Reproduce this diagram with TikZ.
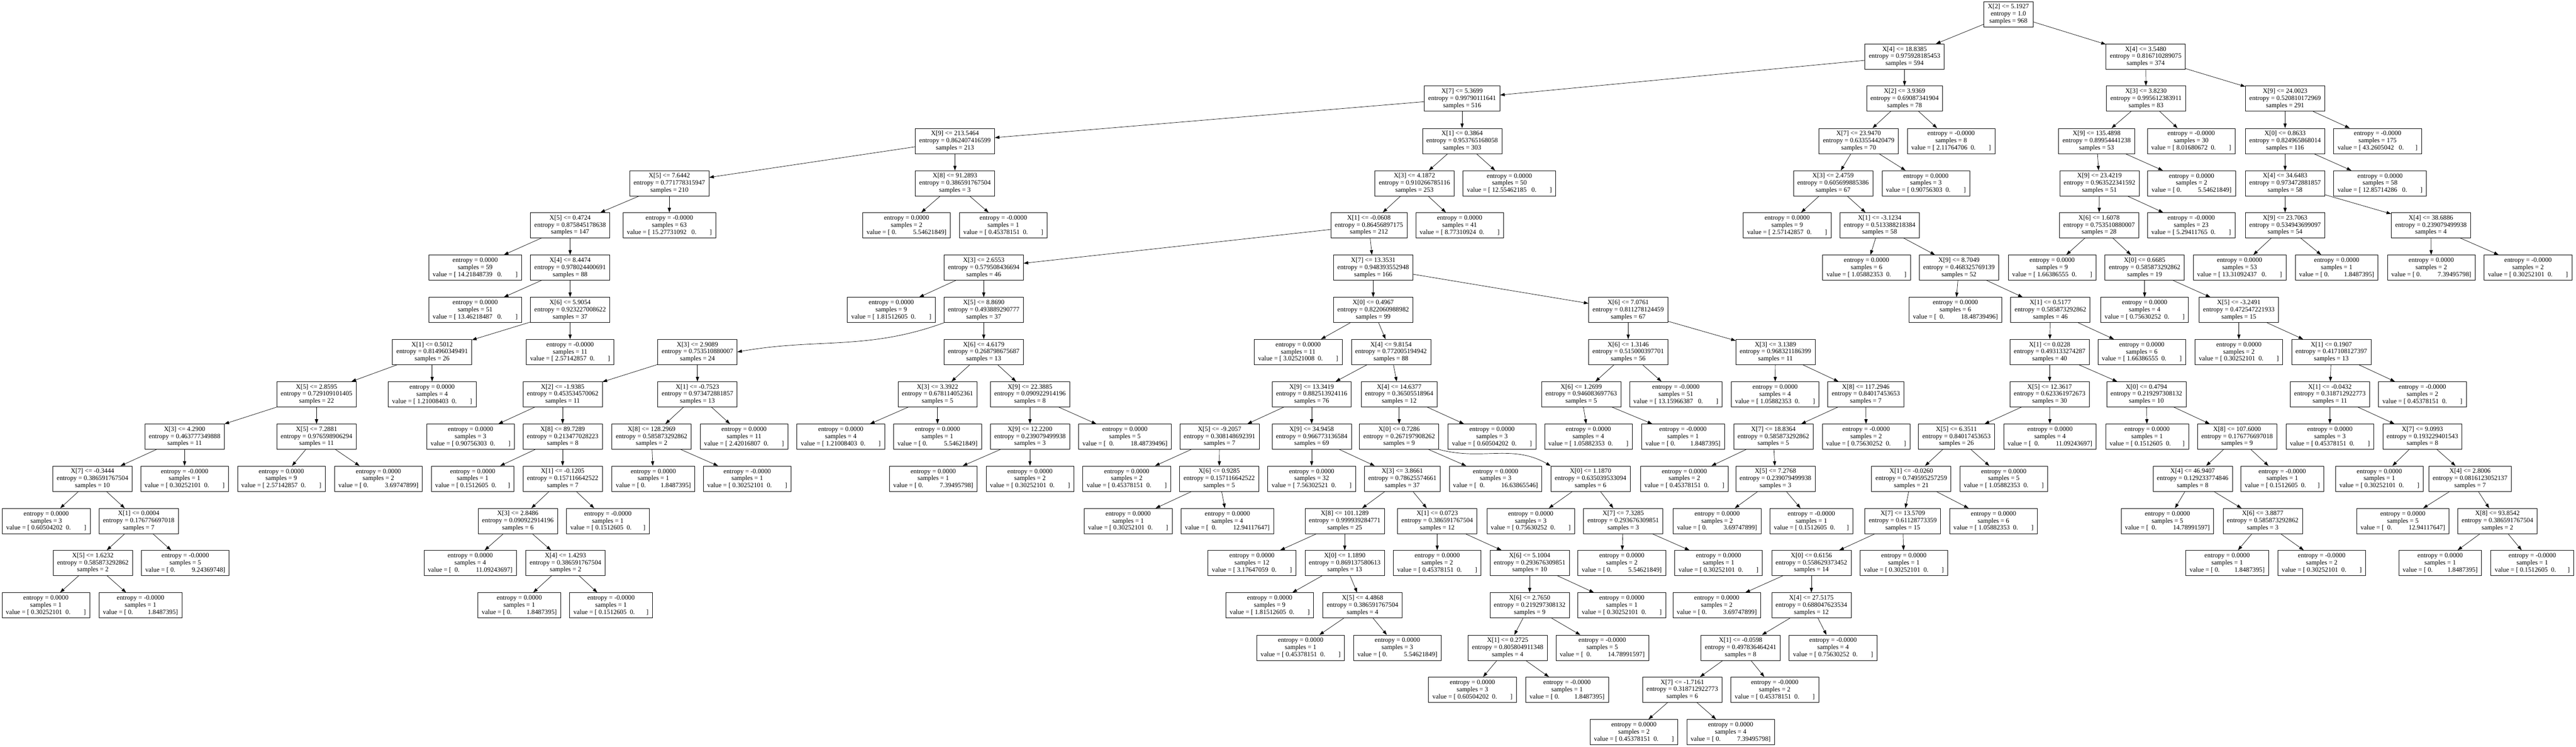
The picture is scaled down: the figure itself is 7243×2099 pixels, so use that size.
\documentclass[tikz,border=0pt]{standalone}
\usepackage{fontspec}
\setmainfont{Liberation Serif}
\usetikzlibrary{arrows.meta}

\newcommand{\dsplit}[3]{#1\\entropy = #2\\samples = #3}
\newcommand{\dleaf}[3]{entropy = #1\\samples = #2\\#3}
\newcommand{\valL}[2][2em]{value = [ #2\ \ 0.\hspace{#1}]}
\newcommand{\valLL}[2][2em]{value = [ #2\ \ \ 0.\hspace{#1}]}
\newcommand{\valR}[2][2em]{value = [ 0.\hspace{#1}\ \ #2]}
\newcommand{\valRR}[2][2em]{value = [ \ 0.\hspace{#1}\ \ #2]}

\begin{document}
\begin{tikzpicture}[x=1pt, y=1pt]
    \tikzstyle{splitbox} = [rectangle, draw, line width=1pt, align=center, inner xsep=11pt, inner ysep=3pt, minimum height=71pt, font=\fontsize{18.5}{20}\selectfont]
    \tikzstyle{leafbox} = [splitbox]
    \tikzstyle{link} = [-{Triangle[length=13pt, width=9pt]}, line width=1pt]

    \useasboundingbox (0,0) rectangle (7243,-2099);

    % Root
    \node[splitbox] (n0) at (5647,-40) {\dsplit{X[2] <= 5.1927}{1.0}{968}};
    \node[splitbox] (sA) at (5355,-159) {\dsplit{X[4] <= 18.8385}{0.975928185453}{594}};
    \node[splitbox] (sR1) at (6033,-159) {\dsplit{X[4] <= 3.5480}{0.816710289075}{374}};

    % X[7] <= 5.3699, left part
    \node[splitbox] (sB) at (4111,-277) {\dsplit{X[7] <= 5.3699}{0.99790111641}{516}};
    \node[splitbox] (sD) at (2685,-396) {\dsplit{X[9] <= 213.5464}{0.862407416599}{213}};
    \node[splitbox] (sF) at (1882,-515) {\dsplit{X[5] <= 7.6442}{0.771778315947}{210}};
    \node[splitbox] (sG) at (2685,-515) {\dsplit{X[8] <= 91.2893}{0.386591767504}{3}};
    \node[leafbox] (l1) at (1882,-633) {\dleaf{-0.0000}{63}{\valLL{15.27731092}}};
    \node[leafbox] (l2) at (2549,-633) {\dleaf{0.0000}{2}{\valR{5.54621849}}};
    \node[leafbox] (l3) at (2821,-633) {\dleaf{-0.0000}{1}{\valL{0.45378151}}};
    \node[splitbox] (sH) at (1603,-633) {\dsplit{X[5] <= 0.4724}{0.875845178638}{147}};
    \node[leafbox] (l4) at (1336,-752) {\dleaf{0.0000}{59}{\valLL{14.21848739}}};
    \node[splitbox] (sI) at (1603,-752) {\dsplit{X[4] <= 8.4474}{0.978024400691}{88}};
    \node[leafbox] (l5) at (1336,-871) {\dleaf{0.0000}{51}{\valLL{13.46218487}}};
    \node[splitbox] (sJ) at (1603,-871) {\dsplit{X[6] <= 5.9054}{0.923227008622}{37}};
    \node[splitbox] (sK) at (1215,-989) {\dsplit{X[1] <= 0.5012}{0.814960349491}{26}};
    \node[leafbox] (l6) at (1603,-989) {\dleaf{-0.0000}{11}{\valL{2.57142857}}};
    \node[splitbox] (sM) at (890,-1108) {\dsplit{X[5] <= 2.8595}{0.729109101405}{22}};
    \node[leafbox] (l7) at (1215,-1108) {\dleaf{0.0000}{4}{\valL{1.21008403}}};
    \node[splitbox] (sN) at (519,-1227) {\dsplit{X[3] <= 4.2900}{0.463777349888}{11}};
    \node[splitbox] (sO) at (890,-1227) {\dsplit{X[5] <= 7.2881}{0.976598906294}{11}};
    \node[splitbox] (sP) at (260,-1345) {\dsplit{X[7] <= -0.3444}{0.386591767504}{10}};
    \node[leafbox] (l8) at (519,-1345) {\dleaf{-0.0000}{1}{\valL{0.30252101}}};
    \node[leafbox] (l9) at (791,-1345) {\dleaf{0.0000}{9}{\valL{2.57142857}}};
    \node[leafbox] (l10) at (1064,-1345) {\dleaf{0.0000}{2}{\valR{3.69747899}}};
    \node[leafbox] (l11) at (130,-1464) {\dleaf{0.0000}{3}{\valL{0.60504202}}};
    \node[splitbox] (sQ) at (390,-1464) {\dsplit{X[1] <= 0.0004}{0.176776697018}{7}};
    \node[splitbox] (sQb) at (261,-1582) {\dsplit{X[5] <= 1.6232}{0.585873292862}{2}};
    \node[leafbox] (l12) at (521,-1582) {\dleaf{-0.0000}{5}{\valR{9.24369748}}};
    \node[leafbox] (l13) at (129,-1701) {\dleaf{0.0000}{1}{\valL{0.30252101}}};
    \node[leafbox] (l14) at (395,-1701) {\dleaf{-0.0000}{1}{\valR[1.75em]{1.8487395}}};

    % X[1] <= 0.3864
    \node[splitbox] (sE) at (4111,-396) {\dsplit{X[1] <= 0.3864}{0.953765168058}{303}};
    \node[splitbox] (sS) at (3977,-515) {\dsplit{X[3] <= 4.1872}{0.910266785116}{253}};
    \node[leafbox] (l15) at (4244,-515) {\dleaf{0.0000}{50}{\valLL{12.55462185}}};
    \node[splitbox] (sT) at (3849,-633) {\dsplit{X[1] <= -0.0608}{0.86456897175}{212}};
    \node[leafbox] (l16) at (4104,-633) {\dleaf{0.0000}{41}{\valL{8.77310924}}};
    \node[splitbox] (sU) at (2766,-752) {\dsplit{X[3] <= 2.6553}{0.579508436694}{46}};
    \node[splitbox] (sV) at (3861,-752) {\dsplit{X[7] <= 13.3531}{0.948393552948}{166}};
    \node[leafbox] (l17) at (2506,-871) {\dleaf{0.0000}{9}{\valL{1.81512605}}};
    \node[splitbox] (sW) at (2766,-871) {\dsplit{X[5] <= 8.8690}{0.493889290777}{37}};
    \node[splitbox] (sX) at (1961,-989) {\dsplit{X[3] <= 2.9089}{0.753510880007}{24}};
    \node[splitbox] (sY) at (2766,-989) {\dsplit{X[6] <= 4.6179}{0.268798675687}{13}};
    \node[splitbox] (sZ) at (1582,-1108) {\dsplit{X[2] <= -1.9385}{0.453534570062}{11}};
    \node[splitbox] (sAA) at (1961,-1108) {\dsplit{X[1] <= -0.7523}{0.973472881857}{13}};
    \node[leafbox] (l18) at (1323,-1227) {\dleaf{0.0000}{3}{\valL{0.90756303}}};
    \node[splitbox] (sAB) at (1582,-1227) {\dsplit{X[8] <= 89.7289}{0.213477028223}{8}};
    \node[leafbox] (l19) at (1329,-1345) {\dleaf{0.0000}{1}{\valL[1.75em]{0.1512605}}};
    \node[splitbox] (sAC) at (1582,-1345) {\dsplit{X[1] <= -0.1205}{0.157116642522}{7}};
    \node[splitbox] (sAD) at (1456,-1464) {\dsplit{X[3] <= 2.8486}{0.090922914196}{6}};
    \node[leafbox] (l20) at (1709,-1464) {\dleaf{-0.0000}{1}{\valL[1.75em]{0.1512605}}};
    \node[leafbox] (l21) at (1322,-1582) {\dleaf{0.0000}{4}{\valRR{11.09243697}}};
    \node[splitbox] (sAE) at (1590,-1582) {\dsplit{X[4] <= 1.4293}{0.386591767504}{2}};
    \node[leafbox] (l22) at (1460,-1701) {\dleaf{0.0000}{1}{\valR[1.75em]{1.8487395}}};
    \node[leafbox] (l23) at (1718,-1701) {\dleaf{-0.0000}{1}{\valL[1.75em]{0.1512605}}};
    \node[splitbox] (sAF) at (1832,-1227) {\dsplit{X[8] <= 128.2969}{0.585873292862}{2}};
    \node[leafbox] (l24) at (2092,-1227) {\dleaf{0.0000}{11}{\valL{2.42016807}}};
    \node[leafbox] (l25) at (1837,-1345) {\dleaf{0.0000}{1}{\valR[1.75em]{1.8487395}}};
    \node[leafbox] (l26) at (2101,-1345) {\dleaf{-0.0000}{1}{\valL{0.30252101}}};
    \node[splitbox] (sAG) at (2636,-1108) {\dsplit{X[3] <= 3.3922}{0.678114052361}{5}};
    \node[splitbox] (sAH) at (2896,-1108) {\dsplit{X[9] <= 22.3885}{0.090922914196}{8}};
    \node[leafbox] (l27) at (2364,-1227) {\dleaf{0.0000}{4}{\valL{1.21008403}}};
    \node[leafbox] (l28) at (2636,-1227) {\dleaf{0.0000}{1}{\valR{5.54621849}}};
    \node[splitbox] (sAI) at (2896,-1227) {\dsplit{X[9] <= 12.2200}{0.239079499938}{3}};
    \node[leafbox] (l29) at (3163,-1227) {\dleaf{0.0000}{5}{\valRR{18.48739496}}};
    \node[leafbox] (l30) at (2624,-1345) {\dleaf{0.0000}{1}{\valR{7.39495798}}};
    \node[leafbox] (l31) at (2896,-1345) {\dleaf{0.0000}{2}{\valL{0.30252101}}};

    % X[7] <= 13.3531
    \node[splitbox] (sAJ) at (3861,-871) {\dsplit{X[0] <= 0.4967}{0.822060988982}{99}};
    \node[splitbox] (sAK) at (4578,-871) {\dsplit{X[6] <= 7.0761}{0.811278124459}{67}};
    \node[leafbox] (l32) at (3650,-989) {\dleaf{0.0000}{11}{\valL{3.02521008}}};
    \node[splitbox] (sAL) at (3911,-989) {\dsplit{X[4] <= 9.8154}{0.772005194942}{88}};
    \node[splitbox] (sAM) at (3688,-1108) {\dsplit{X[9] <= 13.3419}{0.882513924116}{76}};
    \node[splitbox] (sAN) at (3934,-1108) {\dsplit{X[4] <= 14.6377}{0.36505518964}{12}};
    \node[splitbox] (sAO) at (3429,-1227) {\dsplit{X[5] <= -9.2057}{0.308148692391}{7}};
    \node[splitbox] (sAP) at (3688,-1227) {\dsplit{X[9] <= 34.9458}{0.966773136584}{69}};
    \node[leafbox] (l33) at (3168,-1345) {\dleaf{0.0000}{2}{\valL{0.45378151}}};
    \node[splitbox] (sAQ) at (3428,-1345) {\dsplit{X[6] <= 0.9285}{0.157116642522}{5}};
    \node[leafbox] (l34) at (3172,-1464) {\dleaf{0.0000}{1}{\valL{0.30252101}}};
    \node[leafbox] (l35) at (3451,-1464) {\dleaf{0.0000}{4}{\valRR{12.94117647}}};
    \node[leafbox] (l36) at (3688,-1345) {\dleaf{0.0000}{32}{\valL{7.56302521}}};
    \node[splitbox] (sAR) at (3943,-1345) {\dsplit{X[3] <= 3.8661}{0.78625574661}{37}};
    \node[splitbox] (sAS) at (3781,-1464) {\dsplit{X[8] <= 101.1289}{0.999939284771}{25}};
    \node[splitbox] (sAT) at (4041,-1464) {\dsplit{X[1] <= 0.0723}{0.386591767504}{12}};
    \node[leafbox] (l37) at (3520,-1582) {\dleaf{0.0000}{12}{\valL{3.17647059}}};
    \node[splitbox] (sAU) at (3781,-1582) {\dsplit{X[0] <= 1.1890}{0.869137580613}{13}};
    \node[leafbox] (l38) at (3570,-1701) {\dleaf{0.0000}{9}{\valL{1.81512605}}};
    \node[splitbox] (sAV) at (3831,-1701) {\dsplit{X[5] <= 4.4868}{0.386591767504}{4}};
    \node[leafbox] (l39) at (3657,-1820) {\dleaf{0.0000}{1}{\valL{0.45378151}}};
    \node[leafbox] (l40) at (3929,-1820) {\dleaf{0.0000}{3}{\valR{5.54621849}}};
    \node[leafbox] (l41) at (4041,-1582) {\dleaf{0.0000}{2}{\valL{0.45378151}}};
    \node[splitbox] (sAW) at (4301,-1582) {\dsplit{X[6] <= 5.1004}{0.293676309851}{10}};
    \node[splitbox] (sAX) at (4301,-1701) {\dsplit{X[6] <= 2.7650}{0.219297308132}{9}};
    \node[leafbox] (l42) at (4560,-1701) {\dleaf{0.0000}{1}{\valL{0.30252101}}};
    \node[splitbox] (sAY) at (4239,-1820) {\dsplit{X[1] <= 0.2725}{0.805804911348}{4}};
    \node[leafbox] (l43) at (4505,-1820) {\dleaf{-0.0000}{5}{\valRR{14.78991597}}};
    \node[leafbox] (l44) at (4140,-1938) {\dleaf{0.0000}{3}{\valL{0.60504202}}};
    \node[leafbox] (l45) at (4406,-1938) {\dleaf{-0.0000}{1}{\valR[1.75em]{1.8487395}}};
    \node[splitbox] (sAZ) at (3934,-1227) {\dsplit{X[0] <= 0.7286}{0.267197908262}{9}};
    \node[leafbox] (l46) at (4195,-1227) {\dleaf{0.0000}{3}{\valL{0.60504202}}};
    \node[leafbox] (l47) at (4205,-1345) {\dleaf{0.0000}{3}{\valRR{16.63865546}}};
    \node[splitbox] (sBA) at (4472,-1345) {\dsplit{X[0] <= 1.1870}{0.635039533094}{6}};
    \node[leafbox] (l48) at (4304,-1464) {\dleaf{0.0000}{3}{\valL{0.75630252}}};
    \node[splitbox] (sBB) at (4564,-1464) {\dsplit{X[7] <= 7.3285}{0.293676309851}{3}};
    \node[leafbox] (l49) at (4560,-1582) {\dleaf{0.0000}{2}{\valR{5.54621849}}};
    \node[leafbox] (l50) at (4832,-1582) {\dleaf{0.0000}{1}{\valL{0.30252101}}};
    \node[splitbox] (sBC) at (4578,-989) {\dsplit{X[6] <= 1.3146}{0.515000397701}{56}};
    \node[splitbox] (sBD) at (4992,-989) {\dsplit{X[3] <= 3.1389}{0.968321186399}{11}};
    \node[splitbox] (sBE) at (4446,-1108) {\dsplit{X[6] <= 1.2699}{0.946083697763}{5}};
    \node[leafbox] (l51) at (4712,-1108) {\dleaf{-0.0000}{51}{\valLL{13.15966387}}};
    \node[leafbox] (l52) at (4466,-1227) {\dleaf{0.0000}{4}{\valL{1.05882353}}};
    \node[leafbox] (l53) at (4732,-1227) {\dleaf{-0.0000}{1}{\valR[1.75em]{1.8487395}}};
    \node[leafbox] (l54) at (4991,-1108) {\dleaf{0.0000}{4}{\valL{1.05882353}}};
    \node[splitbox] (sBF) at (5246,-1108) {\dsplit{X[8] <= 117.2946}{0.84017453653}{7}};
    \node[splitbox] (sBG) at (4986,-1227) {\dsplit{X[7] <= 18.8364}{0.585873292862}{5}};
    \node[leafbox] (l55) at (5247,-1227) {\dleaf{-0.0000}{2}{\valL{0.75630252}}};
    \node[leafbox] (l56) at (4736,-1345) {\dleaf{0.0000}{2}{\valL{0.45378151}}};
    \node[splitbox] (sBH) at (4992,-1345) {\dsplit{X[5] <= 7.2768}{0.239079499938}{3}};
    \node[leafbox] (l57) at (4828,-1464) {\dleaf{0.0000}{2}{\valR{3.69747899}}};
    \node[leafbox] (l58) at (5093,-1464) {\dleaf{-0.0000}{1}{\valL[1.75em]{0.1512605}}};

    % X[2] <= 3.9369
    \node[splitbox] (sC) at (5355,-277) {\dsplit{X[2] <= 3.9369}{0.69087341904}{78}};
    \node[splitbox] (sBI) at (5226,-396) {\dsplit{X[7] <= 23.9470}{0.633554420479}{70}};
    \node[leafbox] (l59) at (5486,-396) {\dleaf{-0.0000}{8}{\valL{2.11764706}}};
    \node[splitbox] (sBJ) at (5154,-515) {\dsplit{X[3] <= 2.4759}{0.605699885386}{67}};
    \node[leafbox] (l60) at (5415,-515) {\dleaf{0.0000}{3}{\valL{0.90756303}}};
    \node[leafbox] (l61) at (5025,-633) {\dleaf{0.0000}{9}{\valL{2.57142857}}};
    \node[splitbox] (sBK) at (5285,-633) {\dsplit{X[1] <= -3.1234}{0.513388218384}{58}};
    \node[leafbox] (l62) at (5248,-752) {\dleaf{0.0000}{6}{\valL{1.05882353}}};
    \node[splitbox] (sBL) at (5508,-752) {\dsplit{X[9] <= 8.7049}{0.468325769139}{52}};
    \node[leafbox] (l63) at (5498,-871) {\dleaf{0.0000}{6}{\valRR{18.48739496}}};
    \node[splitbox] (sBM) at (5765,-871) {\dsplit{X[1] <= 0.5177}{0.585873292862}{46}};
    \node[splitbox] (sBN) at (5763,-989) {\dsplit{X[1] <= 0.0228}{0.493133274287}{40}};
    \node[leafbox] (l64) at (6022,-989) {\dleaf{0.0000}{6}{\valL{1.66386555}}};
    \node[splitbox] (sBO) at (5763,-1108) {\dsplit{X[5] <= 12.3617}{0.623361972673}{30}};
    \node[splitbox] (sBP) at (6035,-1108) {\dsplit{X[0] <= 0.4794}{0.219297308132}{10}};
    \node[splitbox] (sBQ) at (5501,-1227) {\dsplit{X[5] <= 6.3511}{0.84017453653}{26}};
    \node[leafbox] (l65) at (5764,-1227) {\dleaf{0.0000}{4}{\valRR{11.09243697}}};
    \node[splitbox] (sBR) at (5374,-1345) {\dsplit{X[1] <= -0.0260}{0.749595257259}{21}};
    \node[leafbox] (l66) at (5634,-1345) {\dleaf{0.0000}{5}{\valL{1.05882353}}};
    \node[splitbox] (sBS) at (5350,-1464) {\dsplit{X[7] <= 13.5709}{0.61128773359}{15}};
    \node[leafbox] (l67) at (5605,-1464) {\dleaf{0.0000}{6}{\valL{1.05882353}}};
    \node[splitbox] (sBT) at (5093,-1582) {\dsplit{X[0] <= 0.6156}{0.558629373452}{14}};
    \node[leafbox] (l68) at (5353,-1582) {\dleaf{0.0000}{1}{\valL{0.30252101}}};
    \node[leafbox] (l69) at (4827,-1701) {\dleaf{0.0000}{2}{\valR{3.69747899}}};
    \node[splitbox] (sBU) at (5093,-1701) {\dsplit{X[4] <= 27.5175}{0.688047623534}{12}};
    \node[splitbox] (sBV) at (4894,-1820) {\dsplit{X[1] <= -0.0598}{0.497836464241}{8}};
    \node[leafbox] (l70) at (5154,-1820) {\dleaf{-0.0000}{4}{\valL{0.75630252}}};
    \node[splitbox] (sBW) at (4730,-1938) {\dsplit{X[7] <= -1.7161}{0.318712922773}{6}};
    \node[leafbox] (l71) at (4990,-1938) {\dleaf{-0.0000}{2}{\valL{0.45378151}}};
    \node[leafbox] (l72) at (4594,-2057) {\dleaf{0.0000}{2}{\valL{0.45378151}}};
    \node[leafbox] (l73) at (4866,-2057) {\dleaf{0.0000}{4}{\valR{7.39495798}}};
    \node[leafbox] (l74) at (6037,-1227) {\dleaf{0.0000}{1}{\valL[1.75em]{0.1512605}}};
    \node[splitbox] (sBX) at (6290,-1227) {\dsplit{X[8] <= 107.6000}{0.176776697018}{9}};
    \node[splitbox] (sBY) at (6165,-1345) {\dsplit{X[4] <= 46.9407}{0.129233774846}{8}};
    \node[leafbox] (l75) at (6417,-1345) {\dleaf{-0.0000}{1}{\valL[1.75em]{0.1512605}}};
    \node[leafbox] (l76) at (6094,-1464) {\dleaf{0.0000}{5}{\valRR{14.78991597}}};
    \node[splitbox] (sBZ) at (6362,-1464) {\dsplit{X[6] <= 3.8877}{0.585873292862}{3}};
    \node[leafbox] (l77) at (6262,-1582) {\dleaf{0.0000}{1}{\valR[1.75em]{1.8487395}}};
    \node[leafbox] (l78) at (6528,-1582) {\dleaf{-0.0000}{2}{\valL{0.30252101}}};

    % Right of the root
    \node[splitbox] (sCA) at (6034,-277) {\dsplit{X[3] <= 3.8230}{0.995612383911}{83}};
    \node[splitbox] (sCB) at (6425,-277) {\dsplit{X[9] <= 24.0023}{0.520810172969}{291}};
    \node[splitbox] (sCC) at (5895,-396) {\dsplit{X[9] <= 135.4898}{0.89954441238}{53}};
    \node[leafbox] (l79) at (6161,-396) {\dleaf{-0.0000}{30}{\valL{8.01680672}}};
    \node[splitbox] (sCD) at (5903,-515) {\dsplit{X[9] <= 23.4219}{0.963522341592}{51}};
    \node[leafbox] (l80) at (6162,-515) {\dleaf{0.0000}{2}{\valR{5.54621849}}};
    \node[splitbox] (sCE) at (5902,-633) {\dsplit{X[6] <= 1.6078}{0.753510880007}{28}};
    \node[leafbox] (l81) at (6161,-633) {\dleaf{-0.0000}{23}{\valL{5.29411765}}};
    \node[leafbox] (l82) at (5770,-752) {\dleaf{0.0000}{9}{\valL{1.66386555}}};
    \node[splitbox] (sCF) at (6030,-752) {\dsplit{X[0] <= 0.6685}{0.585873292862}{19}};
    \node[leafbox] (l83) at (6030,-871) {\dleaf{0.0000}{4}{\valL{0.75630252}}};
    \node[splitbox] (sCG) at (6295,-871) {\dsplit{X[5] <= -3.2491}{0.472547221933}{15}};
    \node[leafbox] (l84) at (6295,-989) {\dleaf{0.0000}{2}{\valL{0.30252101}}};
    \node[splitbox] (sCH) at (6555,-989) {\dsplit{X[1] <= 0.1907}{0.417108127397}{13}};
    \node[splitbox] (sCI) at (6551,-1108) {\dsplit{X[1] <= -0.0432}{0.318712922773}{11}};
    \node[leafbox] (l85) at (6811,-1108) {\dleaf{-0.0000}{2}{\valL{0.45378151}}};
    \node[leafbox] (l86) at (6551,-1227) {\dleaf{0.0000}{3}{\valL{0.45378151}}};
    \node[splitbox] (sCJ) at (6811,-1227) {\dsplit{X[7] <= 9.0993}{0.193229401543}{8}};
    \node[leafbox] (l87) at (6690,-1345) {\dleaf{0.0000}{1}{\valL{0.30252101}}};
    \node[splitbox] (sCK) at (6945,-1345) {\dsplit{X[4] <= 2.8006}{0.0816123052137}{7}};
    \node[leafbox] (l88) at (6756,-1464) {\dleaf{0.0000}{5}{\valRR{12.94117647}}};
    \node[splitbox] (sCL) at (7022,-1464) {\dsplit{X[8] <= 93.8542}{0.386591767504}{2}};
    \node[leafbox] (l89) at (6861,-1582) {\dleaf{0.0000}{1}{\valR[1.75em]{1.8487395}}};
    \node[leafbox] (l90) at (7120,-1582) {\dleaf{-0.0000}{1}{\valL[1.75em]{0.1512605}}};
    \node[splitbox] (sCM) at (6425,-396) {\dsplit{X[0] <= 0.8633}{0.824965868014}{116}};
    \node[leafbox] (l91) at (6685,-396) {\dleaf{-0.0000}{175}{\valLL[1.75em]{43.2605042}}};
    \node[splitbox] (sCN) at (6425,-515) {\dsplit{X[4] <= 34.6483}{0.973472881857}{58}};
    \node[leafbox] (l92) at (6692,-515) {\dleaf{0.0000}{58}{\valLL{12.85714286}}};
    \node[splitbox] (sCO) at (6425,-633) {\dsplit{X[9] <= 23.7063}{0.534943699097}{54}};
    \node[splitbox] (sCP) at (6835,-633) {\dsplit{X[4] <= 38.6886}{0.239079499938}{4}};
    \node[leafbox] (l93) at (6297,-752) {\dleaf{0.0000}{53}{\valLL{13.31092437}}};
    \node[leafbox] (l94) at (6570,-752) {\dleaf{0.0000}{1}{\valR[1.75em]{1.8487395}}};
    \node[leafbox] (l95) at (6836,-752) {\dleaf{0.0000}{2}{\valR{7.39495798}}};
    \node[leafbox] (l96) at (7108,-752) {\dleaf{-0.0000}{2}{\valL{0.30252101}}};

    % Arrows
    \foreach \a/\b in {n0/sA, n0/sR1, sA/sB, sA/sC, sB/sD, sB/sE, sD/sF, sD/sG,
        sF/sH, sF/l1, sG/l2, sG/l3, sH/l4, sH/sI, sI/l5, sI/sJ, sJ/sK, sJ/l6,
        sK/sM, sK/l7, sM/sN, sM/sO, sN/sP, sN/l8, sO/l9, sO/l10, sP/l11, sP/sQ,
        sQ/sQb, sQ/l12, sQb/l13, sQb/l14,
        sE/sS, sE/l15, sS/sT, sS/l16, sT/sU, sT/sV, sU/l17, sU/sW, sW/sY,
        sX/sZ, sX/sAA, sZ/l18, sZ/sAB, sAB/l19, sAB/sAC, sAC/sAD, sAC/l20,
        sAD/l21, sAD/sAE, sAE/l22, sAE/l23, sAA/sAF, sAA/l24, sAF/l25, sAF/l26,
        sY/sAG, sY/sAH, sAG/l27, sAG/l28, sAH/sAI, sAH/l29, sAI/l30, sAI/l31,
        sV/sAJ, sV/sAK, sAJ/l32, sAJ/sAL, sAL/sAM, sAL/sAN, sAM/sAO, sAM/sAP,
        sAO/l33, sAO/sAQ, sAQ/l34, sAQ/l35, sAP/l36, sAP/sAR, sAR/sAS, sAR/sAT,
        sAS/l37, sAS/sAU, sAU/l38, sAU/sAV, sAV/l39, sAV/l40, sAT/l41, sAT/sAW,
        sAW/sAX, sAW/l42, sAX/sAY, sAX/l43, sAY/l44, sAY/l45, sAN/sAZ, sAN/l46,
        sAZ/l47, sBA/l48, sBA/sBB, sBB/l49, sBB/l50,
        sAK/sBC, sAK/sBD, sBC/sBE, sBC/l51, sBE/l52, sBE/l53, sBD/l54, sBD/sBF,
        sBF/sBG, sBF/l55, sBG/l56, sBG/sBH, sBH/l57, sBH/l58,
        sC/sBI, sC/l59, sBI/sBJ, sBI/l60, sBJ/l61, sBJ/sBK, sBK/l62, sBK/sBL,
        sBL/l63, sBL/sBM, sBM/sBN, sBM/l64, sBN/sBO, sBN/sBP, sBO/sBQ, sBO/l65,
        sBQ/sBR, sBQ/l66, sBR/sBS, sBR/l67, sBS/sBT, sBS/l68, sBT/l69, sBT/sBU,
        sBU/sBV, sBU/l70, sBV/sBW, sBV/l71, sBW/l72, sBW/l73,
        sBP/l74, sBP/sBX, sBX/sBY, sBX/l75, sBY/l76, sBY/sBZ, sBZ/l77, sBZ/l78,
        sR1/sCA, sR1/sCB, sCA/sCC, sCA/l79, sCC/sCD, sCC/l80, sCD/sCE, sCD/l81,
        sCE/l82, sCE/sCF, sCF/l83, sCF/sCG, sCG/l84, sCG/sCH, sCH/sCI, sCH/l85,
        sCI/l86, sCI/sCJ, sCJ/l87, sCJ/sCK, sCK/l88, sCK/sCL, sCL/l89, sCL/l90,
        sCB/sCM, sCB/l91, sCM/sCN, sCM/l92, sCN/sCO, sCN/sCP, sCO/l93, sCO/l94,
        sCP/l95, sCP/l96}
        \draw[link] (\a) -- (\b);

    % Bent arrows around leaves
    \draw[link] (sW.south west) to[out=200, in=10] (sX.east);
    \draw[link] (sAZ.south east) to[out=-15, in=150] (sBA.north west);
\end{tikzpicture}
\end{document}
